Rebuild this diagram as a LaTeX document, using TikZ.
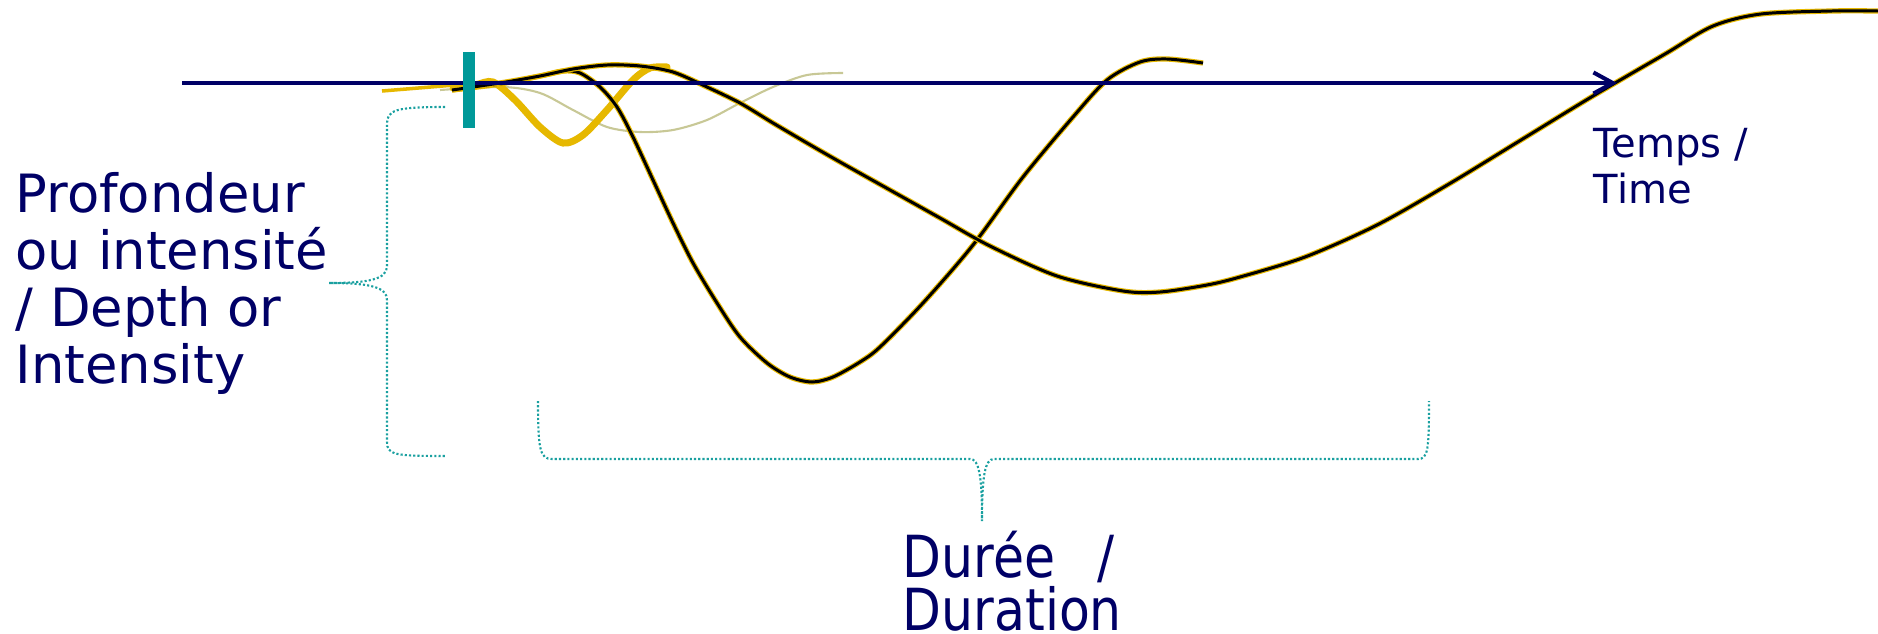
\documentclass[tikz,border=0pt]{standalone}
\usepackage{fontspec}
\setmainfont{DejaVu Sans}
\newfontfamily\narrowfont[FakeStretch=0.87]{DejaVu Sans}
\usetikzlibrary{arrows.meta}
\definecolor{navy}{HTML}{000066}
\definecolor{teal}{HTML}{009999}
\definecolor{brace}{HTML}{1AA0A0}
\definecolor{gold}{HTML}{E6B800}
\definecolor{olive}{HTML}{C8C896}

\begin{document}
\begin{tikzpicture}[x=0.01cm,y=-0.01cm,text=navy,
  curve/.style={gold,line width=1.5pt,smooth,tension=0.5},
  core/.style={black,line width=0.85pt,smooth,tension=0.5},
  bracket/.style={brace,line width=0.6pt,dash pattern=on 0.6pt off 0.6pt}]
  \useasboundingbox (0,0) rectangle (1878,633);
  \coordinate (O) at (182,83); \coordinate (T) at (1617,83);
  % light and small trials
  \draw[olive,line width=0.6pt] plot[smooth,tension=0.5] coordinates {(440,90) (503,87) (540,93) (573,110) (607,127) (640,132) (673,130) (707,120) (740,103) (773,87) (807,75) (843,73)};
  \draw[gold,line width=1pt] (382,91) -- (455,85);
  \draw[gold,line width=2pt,line cap=round] plot[smooth,tension=0.5] coordinates {(453,88) (475,85) (493,82) (515,100) (540,127) (563,143) (583,135) (607,110) (633,80) (650,68) (667,67)};
  % deep short event
  \draw[curve] plot coordinates {(452,90) (500,84) (540,76) (563,71) (580,73) (600,87) (617,107) (633,137) (653,180) (673,223) (693,263) (717,303) (740,337) (767,363) (790,377) (812,382) (833,377) (860,362) (880,347) (923,303) (973,245) (1023,177) (1073,117) (1107,80) (1140,62) (1167,59) (1203,63)};
  \draw[core] plot coordinates {(452,90) (500,84) (540,76) (563,71) (580,73) (600,87) (617,107) (633,137) (653,180) (673,223) (693,263) (717,303) (740,337) (767,363) (790,377) (812,382) (833,377) (860,362) (880,347) (923,303) (973,245) (1023,177) (1073,117) (1107,80) (1140,62) (1167,59) (1203,63)};
  % shallow long event
  \draw[curve] plot coordinates {(452,90) (500,83) (540,76) (573,69) (607,65) (640,66) (673,72) (707,87) (740,103) (773,123) (807,143) (840,162) (890,190) (940,218) (990,246) (1057,276) (1123,291) (1160,292) (1207,285) (1240,277) (1305,257) (1377,225) (1449,184) (1521,140) (1593,96) (1665,54) (1713,26) (1761,14) (1832,11) (1878,11)};
  \draw[core] plot coordinates {(452,90) (500,83) (540,76) (573,69) (607,65) (640,66) (673,72) (707,87) (740,103) (773,123) (807,143) (840,162) (890,190) (940,218) (990,246) (1057,276) (1123,291) (1160,292) (1207,285) (1240,277) (1305,257) (1377,225) (1449,184) (1521,140) (1593,96) (1665,54) (1713,26) (1761,14) (1832,11) (1878,11)};
  % time axis and onset
  \draw[navy,line width=1.15pt,-{Straight Barb[length=5.5pt,width=6pt]}] (O) -- (T);
  \fill[teal] (463,52) rectangle (475,128);
  % braces
  \coordinate (Dtip) at (329,283); \coordinate (Ltip) at (982,521);
  \draw[bracket] (445,107) .. controls (395,107) and (387,110) .. (387,124) -- (387,266)
    .. controls (387,279) and (370,283) .. (Dtip) .. controls (370,283) and (387,287) .. (387,300)
    -- (387,442) .. controls (387,455) and (395,456) .. (445,456);
  \draw[bracket] (538,401) .. controls (538,450) and (540,459) .. (552,459) -- (970,459)
    .. controls (979,459) and (982,475) .. (Ltip) .. controls (982,475) and (985,459) .. (994,459)
    -- (1418,459) .. controls (1428,459) and (1429,450) .. (1429,401);
  % labels (anchored on the baseline of their last line)
  \node[anchor=base west,inner sep=0,align=left,font=\fontsize{15}{16.2}\selectfont] (depth) at (15,383)
    {Profondeur\\ou intensité\\/ Depth or\\Intensity};
  \node[anchor=base west,inner sep=0,align=left,font=\fontsize{11.4}{12.8}\selectfont] (time) at (1593,203)
    {Temps /\\Time};
  \node[anchor=base west,inner sep=0,align=left,font=\narrowfont\fontsize{16.5}{14.8}\selectfont] (dur) at (902,630)
    {Durée\ \ \,/\\Duration};
\end{tikzpicture}
\end{document}
